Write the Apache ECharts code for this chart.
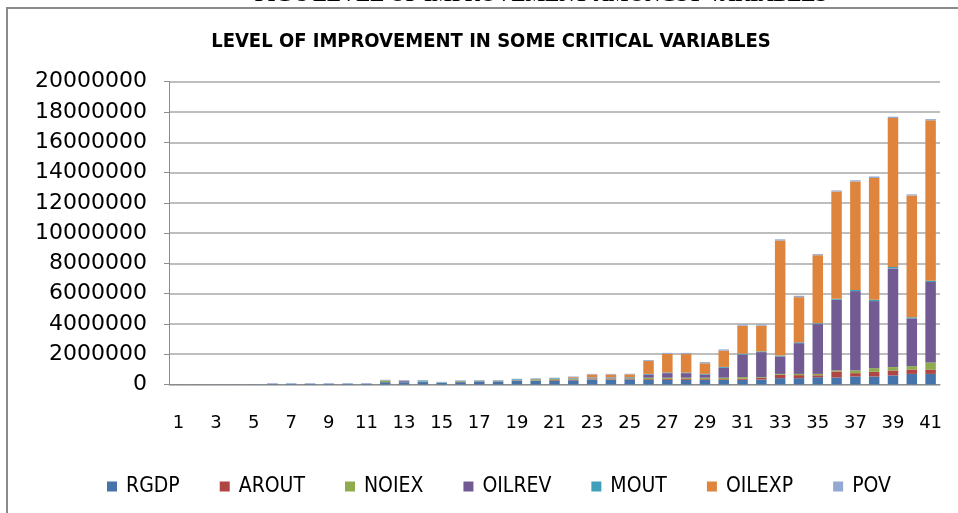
<!DOCTYPE html>
<html>
<head>
<meta charset="utf-8">
<script src="https://cdn.jsdelivr.net/npm/echarts@6/dist/echarts.min.js"></script>
<style>
  html, body { margin: 0; padding: 0; background: #fff; }
  #chart { width: 958px; height: 513px; }
</style>
</head>
<body>
<div id="chart"></div>
<script>
// periods 1..41
const categories = Array.from({ length: 41 }, (_, i) => String(i + 1));

const rgdp = [5000, 6000, 8000, 9000, 11000, 30000, 32000, 35000, 36000, 38000, 40000,
  150000, 150000, 160000, 100000, 150000, 200000, 200000, 250000, 250000, 260000, 280000,
  320000, 320000, 330000, 300000, 310000, 310000, 300000, 300000, 310000, 330000, 420000,
  420000, 480000, 460000, 530000, 530000, 600000, 700000, 700000];
const arout = [500, 500, 500, 500, 500, 1000, 1000, 1000, 1000, 1000, 1000,
  10000, 10000, 10000, 10000, 15000, 15000, 15000, 20000, 20000, 40000, 40000,
  30000, 30000, 30000, 50000, 60000, 60000, 50000, 50000, 70000, 110000, 220000,
  200000, 130000, 400000, 220000, 310000, 330000, 290000, 290000];
const noiex = [500, 500, 500, 500, 500, 1000, 1000, 1000, 1000, 1000, 1000,
  100000, 20000, 20000, 10000, 50000, 20000, 20000, 20000, 80000, 60000, 60000,
  50000, 50000, 50000, 100000, 80000, 80000, 100000, 100000, 110000, 50000, 60000,
  80000, 90000, 70000, 180000, 240000, 220000, 220000, 460000];
const oilrev = [1000, 1000, 1000, 1000, 1000, 2000, 2000, 2000, 2000, 2000, 2000,
  10000, 70000, 10000, 5000, 10000, 10000, 10000, 10000, 10000, 20000, 30000,
  50000, 50000, 50000, 210000, 300000, 300000, 210000, 650000, 1490000, 1650000, 1150000,
  2030000, 3290000, 4670000, 5240000, 4430000, 6520000, 3160000, 5320000];
const mout = [500, 500, 500, 500, 500, 1000, 1000, 1000, 1000, 1000, 1000,
  10000, 10000, 70000, 20000, 20000, 20000, 20000, 50000, 20000, 40000, 40000,
  30000, 30000, 30000, 40000, 40000, 40000, 40000, 60000, 60000, 50000, 60000,
  60000, 60000, 60000, 80000, 90000, 90000, 70000, 90000];
const oilexp = [0, 0, 0, 0, 0, 0, 0, 0, 0, 0, 0,
  0, 0, 0, 0, 0, 0, 0, 0, 0, 0, 50000,
  180000, 180000, 180000, 850000, 1230000, 1230000, 700000, 1080000, 1850000, 1700000, 7600000,
  2980000, 4490000, 7090000, 7160000, 8040000, 9840000, 8050000, 10590000];
const pov = [3000, 3000, 3000, 3000, 3000, 50000, 50000, 50000, 50000, 50000, 50000,
  30000, 30000, 30000, 30000, 30000, 30000, 30000, 30000, 30000, 30000, 30000,
  40000, 40000, 40000, 60000, 70000, 70000, 80000, 80000, 80000, 80000, 80000,
  90000, 70000, 70000, 80000, 100000, 90000, 70000, 80000];

const seriesNames = ['RGDP', 'AROUT', 'NOIEX', 'OILREV', 'MOUT', 'OILEXP', 'POV'];
const seriesData = [rgdp, arout, noiex, oilrev, mout, oilexp, pov];
const colors = ['#4674AA', '#B04643', '#8FAB4E', '#725A92', '#41A0B9', '#DE843D', '#93A9D2'];

const chart = echarts.init(document.getElementById('chart'));

const option = {
  animation: false,
  color: colors,
  title: {
    text: 'LEVEL OF IMPROVEMENT IN SOME CRITICAL VARIABLES',
    left: 486,
    top: 27,
    textAlign: 'center',
    textStyle: {
      fontFamily: "'Liberation Sans Narrow', 'DejaVu Sans Condensed', sans-serif",
      fontSize: 20,
      fontWeight: 'bold',
      color: '#000'
    }
  },
  // frame of the figure and the cut-off caption above it
  graphic: [
    {
      type: 'rect',
      shape: { x: 7, y: 8, width: 1000, height: 1000 },
      style: { fill: 'none', stroke: '#8a8a8a', lineWidth: 2 },
      silent: true
    },
    {
      type: 'text',
      x: 541,
      y: 6,
      style: {
        text: 'FIG 5 LEVEL OF IMPROVEMENT AMONGST VARIABLES',
        font: "bold 21px 'Liberation Serif', serif",
        fill: '#000',
        align: 'center',
        verticalAlign: 'bottom'
      }
    }
  ],
  legend: {
    data: seriesNames,
    left: 102,
    top: 471,
    itemWidth: 10,
    itemHeight: 10,
    itemGap: 40,
    icon: 'rect',
    textStyle: {
      fontFamily: "'Liberation Sans Narrow', 'DejaVu Sans Condensed', sans-serif",
      fontSize: 21,
      color: '#000',
      padding: [0, 0, 0, 4]
    }
  },
  grid: {
    left: 169,
    right: 18,
    top: 81.7,
    bottom: 128.5,
    containLabel: false
  },
  xAxis: {
    type: 'category',
    data: categories,
    axisTick: { show: false },
    axisLine: { lineStyle: { color: '#8c8c8c', width: 1 } },
    axisLabel: {
      interval: 1,
      margin: 30,
      fontFamily: 'DejaVu Sans',
      fontSize: 18,
      color: '#000'
    }
  },
  yAxis: {
    type: 'value',
    min: 0,
    max: 20000000,
    interval: 2000000,
    axisLine: { show: true, lineStyle: { color: '#8c8c8c', width: 1 } },
    axisTick: { show: true, length: 5, lineStyle: { color: '#8c8c8c' } },
    splitLine: { lineStyle: { color: '#a8a8a8', width: 1.5 } },
    axisLabel: {
      margin: 22,
      fontFamily: 'DejaVu Sans',
      fontSize: 22,
      color: '#000',
      formatter: (v) => String(v)
    }
  },
  series: seriesNames.map((name, i) => ({
    name: name,
    type: 'bar',
    stack: 'all',
    data: seriesData[i],
    barWidth: 10.5,
    itemStyle: { color: colors[i] }
  }))
};

chart.setOption(option);
</script>
</body>
</html>
